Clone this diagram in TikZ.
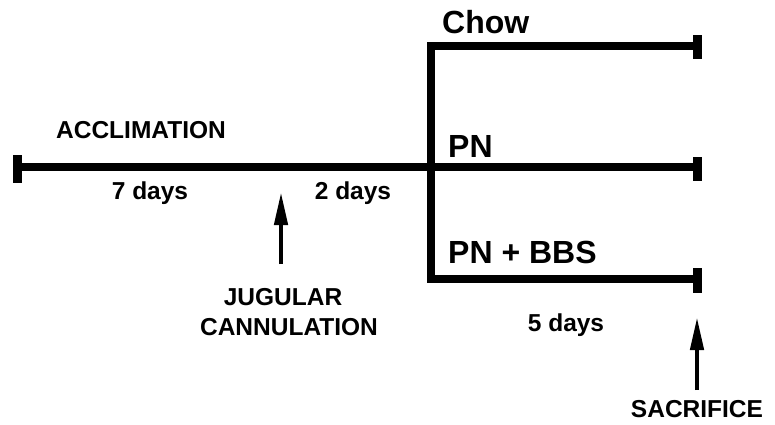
\documentclass[tikz,border=0pt]{standalone}
\usepackage{fontspec}
\setmainfont{Liberation Sans}
\usetikzlibrary{arrows.meta}
\tikzset{
  lbl/.style={font=\fontsize{24.5}{28}\selectfont\bfseries, inner sep=0pt, text=black},
  biglbl/.style={font=\fontsize{32}{36}\selectfont\bfseries, inner sep=0pt, text=black, anchor=base west},
  timeline/.style={line width=8pt, line join=miter, line cap=butt},
  endcap/.style={fill=black, draw=none, inner sep=0pt, minimum width=9pt, minimum height=24pt, rectangle},
  event/.style={line width=4.5pt, -{Triangle[width=13pt,length=33pt]}},
}
\begin{document}
\begin{tikzpicture}[x=1pt,y=-1pt]
\useasboundingbox (0,0) rectangle (775,424);
% end caps
\node[endcap, minimum height=28pt] (lcap) at (17,169) {};
\node[endcap] (chowcap) at (697,46.5) {};
\node[endcap] (pncap) at (697,168.5) {};
\node[endcap, minimum height=25pt] (bbscap) at (697,280) {};
% junction coordinates
\coordinate (start) at (13,167);
\coordinate (split) at (431,167);
\coordinate (chowcorner) at (431,46);
\coordinate (bbscorner) at (431,279);
\coordinate (chowend) at (697,46);
\coordinate (pnend) at (697,167);
\coordinate (bbsend) at (697,279);
% timeline
\draw[timeline] (start) -- (pnend);
\draw[timeline] (chowend) -- (chowcorner) -- (bbscorner) -- (bbsend);
% labels
\node[lbl, anchor=base] (accl) at (141,138) {ACCLIMATION};
\node[lbl, anchor=base] (d7) at (150,199) {7 days};
\node[lbl, anchor=base] (d2) at (353,199) {2 days};
\node[biglbl] (chow) at (442,33) {Chow};
\node[biglbl] (pn) at (448,157) {PN};
\node[biglbl] (pnbbs) at (448,263) {PN + BBS};
\node[lbl, anchor=base] (d5) at (566,331) {5 days};
\node[lbl, anchor=base] (jug) at (283,305) {JUGULAR};
\node[lbl, anchor=base] (cann) at (289,335) {CANNULATION};
\node[lbl, anchor=base] (sacr) at (697,417) {SACRIFICE};
% event arrows
\coordinate (jtail) at (281,264);
\coordinate (jtip) at (281,192);
\coordinate (stail) at (697,390);
\coordinate (stip) at (697,317);
\draw[event] (jtail) -- (jtip);
\draw[event] (stail) -- (stip);
\end{tikzpicture}
\end{document}
